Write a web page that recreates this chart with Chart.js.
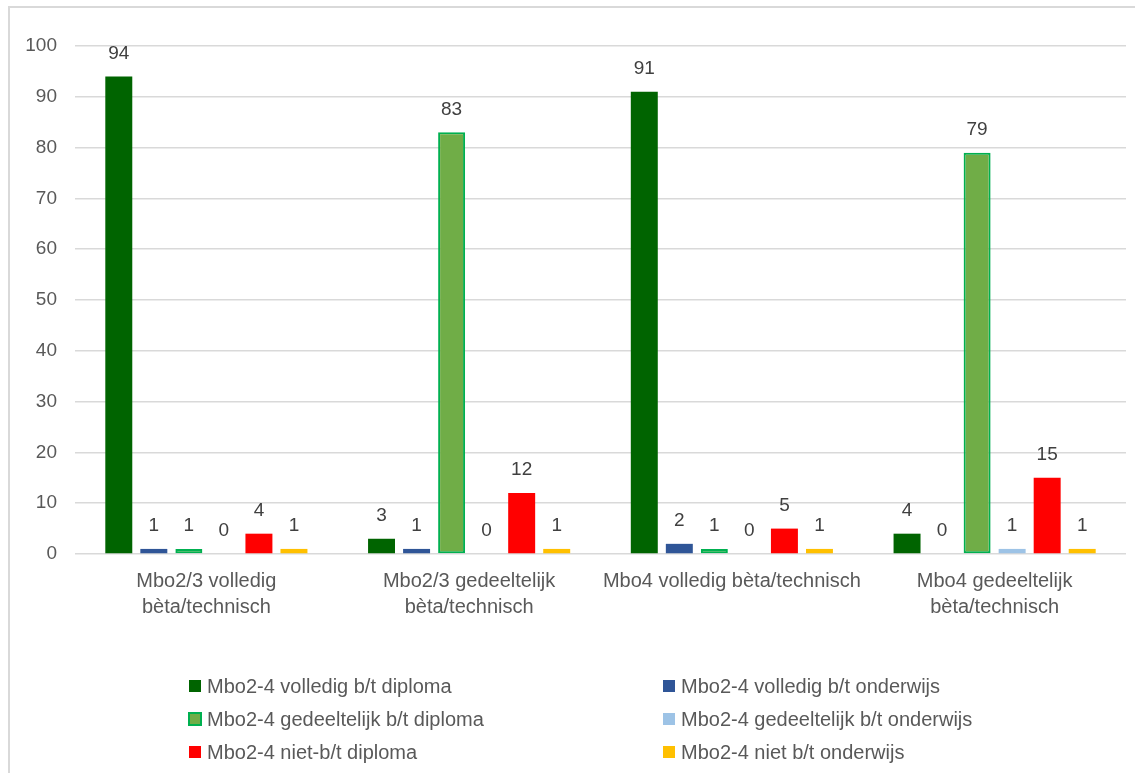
<!DOCTYPE html>
<html>
<head>
<meta charset="utf-8">
<script src="https://cdn.jsdelivr.net/npm/chart.js@4/dist/chart.umd.min.js"></script>
<style>
  html, body { margin: 0; padding: 0; background: #ffffff; }
  #wrap { width: 1135px; height: 773px; position: relative; }
</style>
</head>
<body>
<div id="wrap"><canvas id="chart" width="1135" height="773"></canvas></div>
<script>
// Categories (opleidingsachtergrond) and the six series
const categories = [
  ["Mbo2/3 volledig", "bèta/technisch"],
  ["Mbo2/3 gedeeltelijk", "bèta/technisch"],
  "Mbo4 volledig bèta/technisch",
  ["Mbo4 gedeeltelijk", "bèta/technisch"]
];

const seriesNames = [
  "Mbo2-4 volledig b/t diploma",
  "Mbo2-4 volledig b/t onderwijs",
  "Mbo2-4 gedeeltelijk b/t diploma",
  "Mbo2-4 gedeeltelijk b/t onderwijs",
  "Mbo2-4 niet-b/t diploma",
  "Mbo2-4 niet b/t onderwijs"
];

const volledigDiploma     = [94, 3, 91, 4];
const volledigOnderwijs   = [1, 1, 2, 0];
const gedeeltelijkDiploma = [1, 83, 1, 79];
const gedeeltelijkOnderw  = [0, 0, 0, 1];
const nietDiploma         = [4, 12, 5, 15];
const nietOnderwijs       = [1, 1, 1, 1];

const yTicks = [0, 10, 20, 30, 40, 50, 60, 70, 80, 90, 100];

const seriesValues = [volledigDiploma, volledigOnderwijs, gedeeltelijkDiploma,
                      gedeeltelijkOnderw, nietDiploma, nietOnderwijs];
const fills   = ["#006400", "#2F5597", "#70AD47", "#9DC3E6", "#FF0000", "#FFC000"];
const borders = [null, null, "#00B050", null, null, null];

const FONT = "'Liberation Sans', Arial, sans-serif";
const TEXT = "#595959";

const datasets = seriesValues.map((vals, i) => ({
  label: seriesNames[i],
  data: vals,
  backgroundColor: fills[i],
  borderColor: borders[i] || fills[i],
  borderWidth: borders[i] ? 2 : 0,
  borderSkipped: borders[i] ? false : 'start',
  categoryPercentage: 0.8,
  barPercentage: 0.77
}));

// Outer frame lines (left and top of the chart box)
const framePlugin = {
  id: 'frame',
  beforeDraw(chart) {
    const ctx = chart.ctx;
    ctx.save();
    ctx.fillStyle = '#ffffff';
    ctx.fillRect(0, 0, chart.width, chart.height);
    ctx.strokeStyle = '#d9d9d9';
    ctx.lineWidth = 2;
    ctx.beginPath();
    ctx.moveTo(9, chart.height);
    ctx.lineTo(9, 7);
    ctx.lineTo(chart.width, 7);
    ctx.stroke();
    ctx.restore();
  }
};

// Value labels above each bar
const valueLabels = {
  id: 'valueLabels',
  afterDatasetsDraw(chart) {
    const ctx = chart.ctx;
    ctx.save();
    ctx.font = "19px " + FONT;
    ctx.fillStyle = '#404040';
    ctx.textAlign = 'center';
    ctx.textBaseline = 'middle';
    chart.data.datasets.forEach((ds, di) => {
      const meta = chart.getDatasetMeta(di);
      meta.data.forEach((bar, i) => {
        ctx.fillText(String(ds.data[i]), bar.x, bar.y - 23);
      });
    });
    ctx.restore();
  }
};

// Two-column legend below the plot
const gridLegend = {
  id: 'gridLegend',
  afterDraw(chart) {
    const ctx = chart.ctx;
    const colX = [189, 663];
    const rowY = [686, 719, 752];
    ctx.save();
    ctx.font = "20px " + FONT;
    ctx.textBaseline = 'middle';
    ctx.textAlign = 'left';
    chart.data.datasets.forEach((ds, i) => {
      const x = colX[i % 2];
      const y = rowY[Math.floor(i / 2)];
      ctx.fillStyle = ds.backgroundColor;
      ctx.fillRect(x, y - 6, 12, 12);
      if (ds.borderWidth) {
        ctx.strokeStyle = ds.borderColor;
        ctx.lineWidth = 2;
        ctx.strokeRect(x, y - 6, 12, 12);
      }
      ctx.fillStyle = TEXT;
      ctx.fillText(ds.label, x + 18, y + 1);
    });
    ctx.restore();
  }
};

new Chart(document.getElementById('chart'), {
  type: 'bar',
  data: { labels: categories, datasets },
  plugins: [framePlugin, valueLabels, gridLegend],
  options: {
    responsive: false,
    animation: false,
    devicePixelRatio: 1,
    layout: { padding: { left: 0, right: 9, top: 46, bottom: 139 } },
    plugins: {
      legend: { display: false },
      tooltip: { enabled: false }
    },
    scales: {
      x: {
        grid: { display: false, drawTicks: false },
        border: { display: false },
        ticks: {
          color: TEXT,
          font: { family: FONT, size: 20, lineHeight: 1.3 },
          padding: 14,
          maxRotation: 0,
          autoSkip: false
        },
        afterFit(scale) { scale.height = 80; }
      },
      y: {
        min: 0,
        max: 100,
        afterBuildTicks(scale) { scale.ticks = yTicks.map(v => ({ value: v })); },
        grid: { color: '#d9d9d9', lineWidth: 1.5, drawTicks: false },
        border: { display: false },
        ticks: {
          color: TEXT,
          font: { family: FONT, size: 19 },
          padding: 18
        },
        afterFit(scale) { scale.width = 75; }
      }
    }
  }
});
</script>
</body>
</html>
